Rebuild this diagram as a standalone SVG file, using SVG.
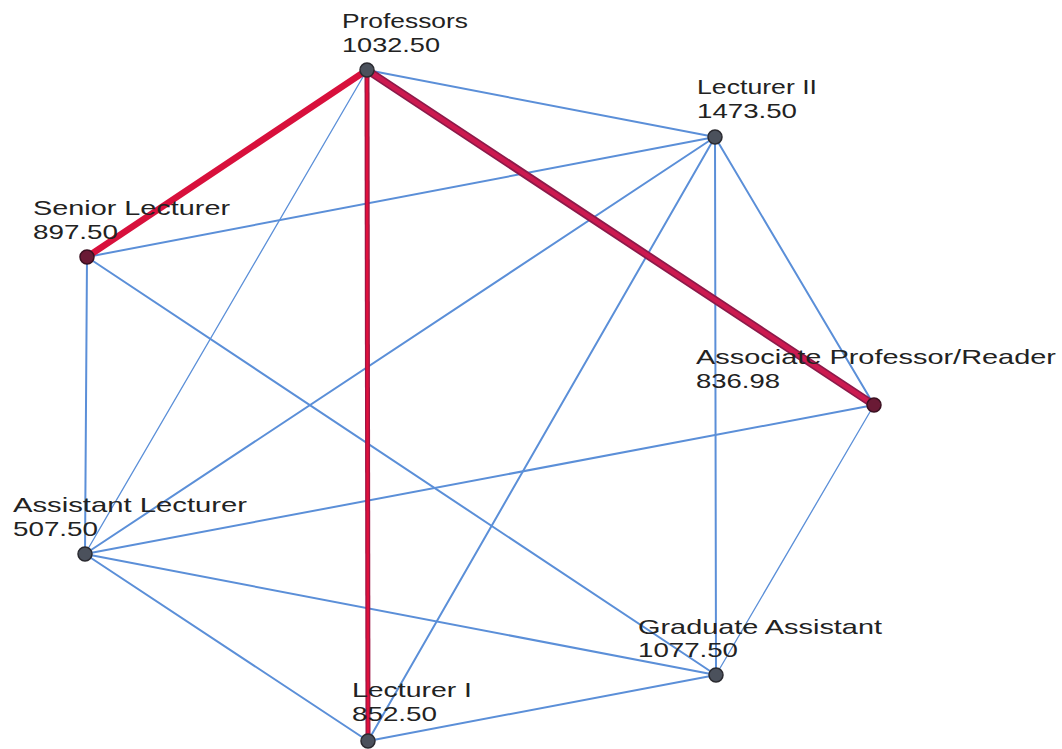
<svg xmlns="http://www.w3.org/2000/svg" width="1062" height="749" viewBox="0 0 1062 749">
<style>
.e{stroke:#5b8fd8;stroke-width:2;fill:none;stroke-linecap:round}
.t{stroke-width:1.3}
.lbl{font-family:"Liberation Sans",Arial,sans-serif;font-size:21px;fill:#222}
.n{fill:#4b515c;stroke:#2a2a30;stroke-width:1.5}
.nr{fill:#6a1a35;stroke:#3a1020;stroke-width:1.5}
</style>
<rect width="1062" height="749" fill="#ffffff"/>
<g id="connectors">
<line class="e" x1="367" y1="70" x2="715" y2="137"/>
<line class="e t" x1="367" y1="70" x2="85" y2="554"/>
<line class="e" x1="715" y1="137" x2="87" y2="257"/>
<line class="e" x1="715" y1="137" x2="85" y2="554"/>
<line class="e" x1="715" y1="137" x2="368" y2="741"/>
<line class="e" x1="715" y1="137" x2="716" y2="675"/>
<line class="e" x1="715" y1="137" x2="874" y2="405"/>
<line class="e" x1="87" y1="257" x2="85" y2="554"/>
<line class="e" x1="87" y1="257" x2="716" y2="675"/>
<line class="e" x1="874" y1="405" x2="85" y2="554"/>
<line class="e t" x1="874" y1="405" x2="716" y2="675"/>
<line class="e" x1="85" y1="554" x2="716" y2="675"/>
<line class="e" x1="85" y1="554" x2="368" y2="741"/>
<line class="e" x1="716" y1="675" x2="368" y2="741"/>
<line x1="367" y1="70" x2="368" y2="741" stroke="#9c1444" stroke-width="5"/>
<line x1="367" y1="70" x2="368" y2="741" stroke="#e0103c" stroke-width="2.5"/>
<line x1="367" y1="70" x2="874" y2="405" stroke="#8c1a4a" stroke-width="8" stroke-linecap="round"/>
<line x1="367" y1="70" x2="874" y2="405" stroke="#cc1a50" stroke-width="4.5" stroke-linecap="round"/>
<line x1="367" y1="70" x2="87" y2="257" stroke="#d8103c" stroke-width="6.5" stroke-linecap="round"/>
</g>
<g id="professors">
<circle class="n" cx="367" cy="70" r="7"/>
<text class="lbl" x="342" y="28" textLength="126" lengthAdjust="spacingAndGlyphs">Professors</text>
<text class="lbl" x="342" y="52" textLength="98" lengthAdjust="spacingAndGlyphs">1032.50</text>
</g>
<g id="lecturer2">
<circle class="n" cx="715" cy="137" r="7"/>
<text class="lbl" x="697" y="94" textLength="120" lengthAdjust="spacingAndGlyphs">Lecturer II</text>
<text class="lbl" x="697" y="118" textLength="100" lengthAdjust="spacingAndGlyphs">1473.50</text>
</g>
<g id="senior-lecturer">
<circle class="nr" cx="87" cy="257" r="7"/>
<text class="lbl" x="33" y="215" textLength="197" lengthAdjust="spacingAndGlyphs">Senior Lecturer</text>
<text class="lbl" x="33" y="239" textLength="85" lengthAdjust="spacingAndGlyphs">897.50</text>
</g>
<g id="associate">
<circle class="nr" cx="874" cy="405" r="7"/>
<text class="lbl" x="696" y="364" textLength="360" lengthAdjust="spacingAndGlyphs">Associate Professor/Reader</text>
<text class="lbl" x="696" y="388" textLength="84" lengthAdjust="spacingAndGlyphs">836.98</text>
</g>
<g id="assistant-lecturer">
<circle class="n" cx="85" cy="554" r="7"/>
<text class="lbl" x="13" y="512" textLength="234" lengthAdjust="spacingAndGlyphs">Assistant Lecturer</text>
<text class="lbl" x="13" y="536" textLength="85" lengthAdjust="spacingAndGlyphs">507.50</text>
</g>
<g id="graduate-assistant">
<circle class="n" cx="716" cy="675" r="7"/>
<text class="lbl" x="638" y="634" textLength="244" lengthAdjust="spacingAndGlyphs">Graduate Assistant</text>
<text class="lbl" x="638" y="657" textLength="100" lengthAdjust="spacingAndGlyphs">1077.50</text>
</g>
<g id="lecturer1">
<circle class="n" cx="368" cy="741" r="7"/>
<text class="lbl" x="352" y="697" textLength="120" lengthAdjust="spacingAndGlyphs">Lecturer I</text>
<text class="lbl" x="352" y="721" textLength="85" lengthAdjust="spacingAndGlyphs">852.50</text>
</g>
</svg>
